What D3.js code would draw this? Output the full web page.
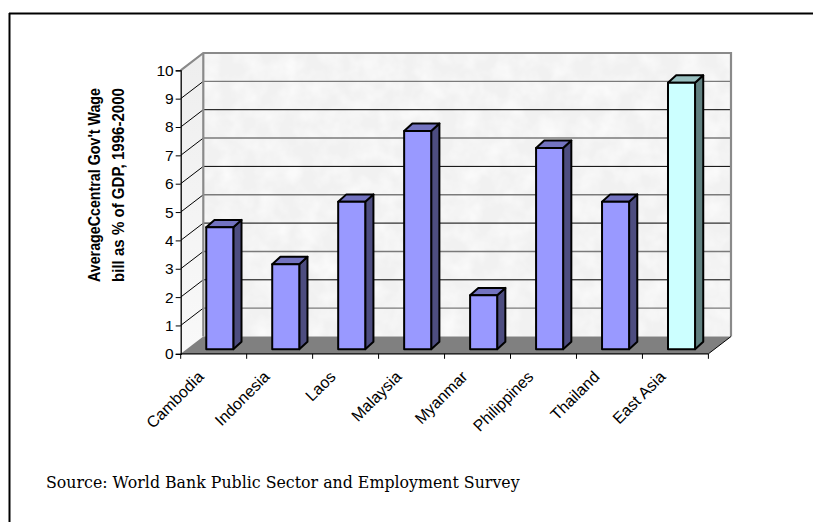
<!DOCTYPE html>
<html>
<head>
<meta charset="utf-8">
<script src="https://cdn.jsdelivr.net/npm/d3@7"></script>
<style>
  html, body { margin: 0; padding: 0; background: #fff; }
  svg { display: block; }
</style>
</head>
<body>
<svg id="chart" width="813" height="522"></svg>
<script>
// Average central government wage bill, % of GDP, 1996-2000
const categories = ["Cambodia", "Indonesia", "Laos", "Malaysia", "Myanmar", "Philippines", "Thailand", "East Asia"];
const wageBill = [4.3, 3.0, 5.2, 7.7, 1.9, 7.1, 5.2, 9.4];
const yTicks = [0, 1, 2, 3, 4, 5, 6, 7, 8, 9, 10];
const titleLines = ["AverageCcentral Gov't Wage", "bill as % of GDP, 1996-2000"];
const sourceNote = "Source: World Bank Public Sector and Employment Survey";

const svg = d3.select("#chart");

// Frame (top and left rules)
svg.append("line").attr("x1", 9).attr("y1", 13.5).attr("x2", 813).attr("y2", 13.5)
  .attr("stroke", "#000").attr("stroke-width", 2);
svg.append("line").attr("x1", 9.5).attr("y1", 13).attr("x2", 9.5).attr("y2", 522)
  .attr("stroke", "#000").attr("stroke-width", 2);

// Plot geometry: front plane and depth offset of the 3-D box
const x0 = 180.7, x1 = 708.4;
const depth = { dx: 22.6, dy: -17.3 };
const y = d3.scaleLinear().domain([0, 10]).range([353.8, 70.3]);
const x = d3.scaleBand().domain(categories).range([x0, x1]).padding(0);

// Bars sit inside the box at this depth slice
const barFront = { dx: 6.1, dy: -4.6 };
const barDepth = { dx: 8.2, dy: -7.4 };
const barWidth = x.step() * 0.41;

// Wall texture
const defs = svg.append("defs");
const f = defs.append("filter").attr("id", "grain").attr("x", 0).attr("y", 0).attr("width", 1).attr("height", 1);
f.append("feTurbulence").attr("type", "fractalNoise").attr("baseFrequency", 0.05).attr("numOctaves", 3).attr("seed", 4).attr("result", "n");
f.append("feColorMatrix").attr("in", "n").attr("type", "matrix")
  .attr("values", "0 0 0 0 1  0 0 0 0 1  0 0 0 0 1  0 0 0 -1.3 0.85").attr("result", "m");
f.append("feComposite").attr("in", "m").attr("in2", "SourceGraphic").attr("operator", "in");

const sideGrad = defs.append("linearGradient").attr("id", "sideGrad").attr("x1", 0).attr("y1", 0).attr("x2", 0).attr("y2", 1);
sideGrad.append("stop").attr("offset", "0%").attr("stop-color", "#eeeeee");
sideGrad.append("stop").attr("offset", "100%").attr("stop-color", "#f9f9f9");

const bx0 = x0 + depth.dx, bx1 = x1 + depth.dx;
const yTop = y(10), yBot = y(0);

// Back wall
svg.append("rect").attr("x", bx0).attr("y", yTop + depth.dy).attr("width", bx1 - bx0).attr("height", yBot - yTop)
  .attr("fill", "#f1f1f1");
svg.append("rect").attr("x", bx0).attr("y", yTop + depth.dy).attr("width", bx1 - bx0).attr("height", yBot - yTop)
  .attr("fill", "#f9f9f9").attr("filter", "url(#grain)");

// Side wall
const sidePts = [[x0, yTop], [bx0, yTop + depth.dy], [bx0, yBot + depth.dy], [x0, yBot]];
svg.append("polygon").attr("points", sidePts.map(p => p.join(",")).join(" ")).attr("fill", "url(#sideGrad)");

// Gridlines on back wall and side wall
const grid = svg.append("g");
yTicks.filter(v => v > 0 && v < 10).forEach(v => {
  const yy = y(v) + depth.dy;
  grid.append("line").attr("x1", bx0).attr("x2", bx1).attr("y1", yy).attr("y2", yy)
    .attr("stroke", v % 2 ? "#7a7a7a" : "#000").attr("stroke-width", v % 2 ? 1.4 : 1);
});
yTicks.filter(v => v > 0).forEach(v => {
  grid.append("line").attr("x1", x0).attr("y1", y(v)).attr("x2", bx0).attr("y2", y(v) + depth.dy)
    .attr("stroke", "#000").attr("stroke-width", 1);
});

// Wall edges
svg.append("polyline")
  .attr("points", [[x0, yTop], [bx0, yTop + depth.dy], [bx1, yTop + depth.dy], [bx1, yBot + depth.dy]].map(p => p.join(",")).join(" "))
  .attr("fill", "none").attr("stroke", "#8a8a8a").attr("stroke-width", 2.2);
svg.append("line").attr("x1", bx0).attr("y1", yTop + depth.dy).attr("x2", bx0).attr("y2", yBot + depth.dy)
  .attr("stroke", "#8a8a8a").attr("stroke-width", 2.2);

// Floor
const floorPts = [[x0, yBot], [bx0, yBot + depth.dy], [bx1, yBot + depth.dy], [x1, yBot]];
svg.append("polygon").attr("points", floorPts.map(p => p.join(",")).join(" ")).attr("fill", "#808080");
svg.append("line").attr("x1", x1).attr("y1", yBot).attr("x2", bx1).attr("y2", yBot + depth.dy)
  .attr("stroke", "#000").attr("stroke-width", 1);

// Bars
const palette = d => d === "East Asia"
  ? { front: "#ccffff", top: "#99c0c0", side: "#608080" }
  : { front: "#9999ff", top: "#7373c0", side: "#4d4d80" };

const bars = svg.append("g").selectAll("g").data(categories.map((c, i) => ({ c, v: wageBill[i] }))).join("g");
bars.each(function (d) {
  const g = d3.select(this);
  const col = palette(d.c);
  const left = x(d.c) + (x.step() - barWidth) / 2 + barFront.dx;
  const right = left + barWidth;
  const top = y(d.v) + barFront.dy;
  const bottom = y(0) + barFront.dy;
  const P = pts => pts.map(p => p.join(",")).join(" ");
  const poly = (pts, fill) => g.append("polygon").attr("points", P(pts)).attr("fill", fill)
    .attr("stroke", "#000").attr("stroke-width", 2).attr("stroke-linejoin", "round");
  poly([[right, top], [right + barDepth.dx, top + barDepth.dy], [right + barDepth.dx, bottom + barDepth.dy], [right, bottom]], col.side);
  poly([[left, top], [left + barDepth.dx, top + barDepth.dy], [right + barDepth.dx, top + barDepth.dy], [right, top]], col.top);
  poly([[left, top], [right, top], [right, bottom], [left, bottom]], col.front);
});

// Value axis
const yAxis = svg.append("g").attr("transform", `translate(${x0},0)`)
  .call(d3.axisLeft(y).tickValues(yTicks).tickSize(5).tickPadding(2).tickFormat(d3.format("d")));
yAxis.select(".domain").attr("stroke", "#000").attr("stroke-width", 1.3);
yAxis.selectAll(".tick line").attr("stroke", "#000");
yAxis.selectAll("text").attr("font-family", "'Liberation Sans', Arial, sans-serif").attr("font-size", 15.5).attr("fill", "#000");

// Category axis
const xAxis = svg.append("g").attr("transform", `translate(0,${yBot})`);
xAxis.append("line").attr("x1", x0).attr("x2", x1).attr("y1", 0).attr("y2", 0).attr("stroke", "#000").attr("stroke-width", 1.3);
d3.range(categories.length + 1).forEach(i => {
  const xx = x0 + i * x.step();
  xAxis.append("line").attr("x1", xx).attr("x2", xx).attr("y1", 0).attr("y2", 5).attr("stroke", "#000");
});
xAxis.selectAll("text.cat").data(categories).join("text").attr("class", "cat")
  .attr("transform", d => `translate(${x(d) + x.step() / 2 - 9},${24}) rotate(-45)`)
  .attr("text-anchor", "end")
  .attr("font-family", "'Liberation Sans', Arial, sans-serif").attr("font-size", 16).attr("fill", "#000")
  .text(d => d);

// Axis title
const title = svg.append("text")
  .attr("transform", "translate(100,185) rotate(-90)")
  .attr("text-anchor", "middle")
  .attr("font-family", "'Liberation Sans', Arial, sans-serif").attr("font-size", 16.5).attr("font-weight", "bold").attr("fill", "#000");
titleLines.forEach((t, i) => title.append("tspan").attr("x", 0).attr("dy", i === 0 ? 0 : 24)
  .attr("textLength", 194).attr("lengthAdjust", "spacingAndGlyphs").text(t));

// Source note
const src = svg.append("text").attr("x", 46).attr("y", 488)
  .attr("font-family", "'DejaVu Serif', Georgia, serif").attr("font-size", 14).attr("fill", "#000")
  .text(sourceNote);
const w = src.node().getComputedTextLength();
src.attr("font-size", 14 * 474 / w);
</script>
</body>
</html>
